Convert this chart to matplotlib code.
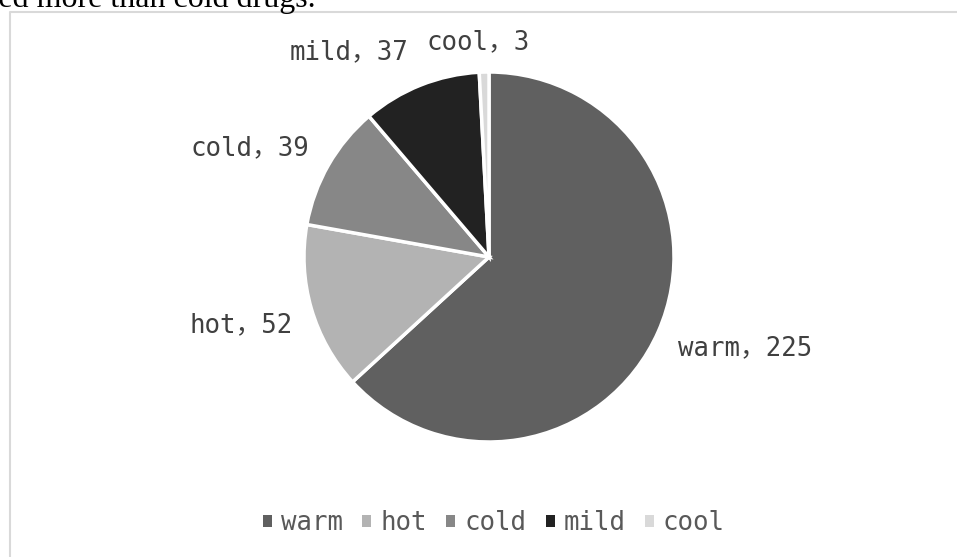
import numpy as np
import matplotlib.pyplot as plt

# drug property counts
categories = ['warm', 'hot', 'cold', 'mild', 'cool']
counts = [225, 52, 39, 37, 3]
colors = ['#606060', '#b3b3b3', '#878787', '#222222', '#d9d9d9']

W, H = 957, 557
fig = plt.figure(figsize=(W / 100, H / 100), dpi=100)
ax = fig.add_axes([0, 0, 1, 1])
ax.axis('off')

label_font = ['DejaVu Sans Mono', 'Noto Sans CJK SC']

# chart frame
ax.plot([9.5, 9.5, 957], [-5, H - 11.5, H - 11.5], color='#d9d9d9', lw=1.5)

# tail of the paragraph above the chart
fig.text(316 / W, 1 - 7 / H, 'used more than cold drugs.', ha='right', va='baseline',
         family='Liberation Serif', fontsize=23, color='black')

cx, cy, R = 489, H - 257, 185
wedges, _ = ax.pie(counts, colors=colors, startangle=90, counterclock=False,
                   center=(cx, cy), radius=R,
                   wedgeprops=dict(edgecolor='white', linewidth=2.5))
ax.set_xlim(0, W)
ax.set_ylim(0, H)
ax.set_aspect('equal')

# data labels around the pie: radius factor, angle nudge (deg), alignment
label_r = [1.135, 1.12, 1.135, 1.19, 1.16]
label_shift = [-2.0, 2.9, -1.5, -0.2, 1.4]
label_ha = ['left', 'right', 'right', 'right', 'center']
for w, name, n, r, s, ha in zip(wedges, categories, counts, label_r, label_shift, label_ha):
    mid = np.deg2rad((w.theta1 + w.theta2) / 2 + s)
    x = cx + r * R * np.cos(mid)
    y = cy + r * R * np.sin(mid)
    ax.text(x, y, f'{name}\uff0c{n}', ha=ha, va='center', fontsize=18.5,
            family=label_font, color='#404040')

leg = fig.legend(wedges, categories, loc='center', bbox_to_anchor=(494 / W, 1 - 523 / H),
                 ncol=5, frameon=False, handlelength=0.35, handleheight=0.35,
                 handletextpad=0.35, columnspacing=0.75,
                 prop=dict(family=label_font, size=18.5))
for t in leg.get_texts():
    t.set_color('#595959')
for h in leg.legend_handles:
    h.set_edgecolor('none')

fig.savefig('out.png', dpi=100)
